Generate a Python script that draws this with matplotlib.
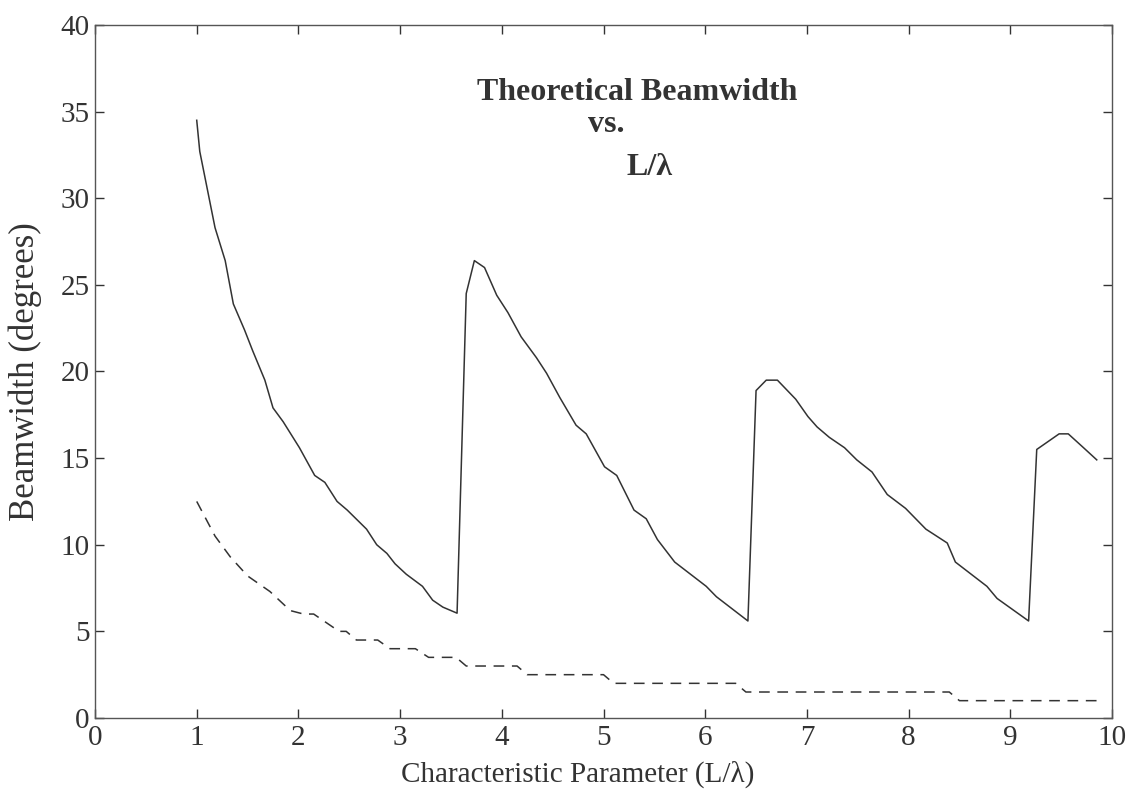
import matplotlib
matplotlib.use("Agg")
import matplotlib.pyplot as plt

# Theoretical beamwidth (solid) vs L/lambda
x_solid = [1.00, 1.03, 1.18, 1.28, 1.36, 1.47, 1.55, 1.67, 1.75, 1.85, 2.01,
           2.16, 2.26, 2.38, 2.48, 2.67, 2.77, 2.87, 2.95, 3.06, 3.22, 3.32,
           3.42, 3.56,
           3.65, 3.73, 3.83, 3.95, 4.06, 4.19, 4.34, 4.44, 4.57, 4.73, 4.83,
           5.01, 5.13, 5.30, 5.42, 5.53, 5.70, 6.01, 6.11, 6.42,
           6.50, 6.60, 6.71, 6.89, 7.01, 7.10, 7.22, 7.37, 7.49, 7.64, 7.79,
           7.97, 8.17, 8.38, 8.46, 8.77, 8.87, 9.18,
           9.26, 9.48, 9.57, 9.72, 9.85]
y_solid = [34.5, 32.7, 28.3, 26.4, 23.9, 22.4, 21.2, 19.5, 17.9, 17.1, 15.6,
           14.0, 13.6, 12.5, 12.0, 10.9, 10.0, 9.5, 8.9, 8.3, 7.6, 6.8,
           6.4, 6.05,
           24.5, 26.4, 26.0, 24.4, 23.4, 22.0, 20.8, 19.9, 18.5, 16.9, 16.4,
           14.5, 14.0, 12.0, 11.5, 10.3, 9.0, 7.6, 7.0, 5.6,
           18.9, 19.5, 19.5, 18.4, 17.4, 16.8, 16.2, 15.6, 14.9, 14.2, 12.9,
           12.1, 10.9, 10.1, 9.0, 7.6, 6.9, 5.6,
           15.5, 16.4, 16.4, 15.6, 14.9]

# second (dashed) curve
x_dash = [1.00, 1.18, 1.33, 1.50, 1.72, 1.92, 2.05, 2.15, 2.40, 2.47, 2.57,
          2.78, 2.90, 3.15, 3.28, 3.55, 3.65, 4.15, 4.25, 5.00, 5.10, 6.30,
          6.40, 8.40, 8.50, 9.85]
y_dash = [12.5, 10.5, 9.3, 8.2, 7.3, 6.2, 6.0, 6.0, 5.0, 5.0, 4.5,
          4.5, 4.0, 4.0, 3.5, 3.5, 3.0, 3.0, 2.5, 2.5, 2.0, 2.0,
          1.5, 1.5, 1.0, 1.0]

xticks = list(range(0, 11))
yticks = list(range(0, 41, 5))

plt.rcParams['font.family'] = ['Liberation Serif', 'DejaVu Serif']

fig = plt.figure(figsize = (11.34, 7.96), dpi = 100)
ax = fig.add_axes([0.0838, 0.098, 0.8968, 0.8706])

ink = '#333333'
ax.plot(x_solid, y_solid, color = ink, lw = 1.1)
ax.plot(x_dash, y_dash, color = ink, lw = 1.1, dashes = (7, 5))

ax.set_xlim(0, 10)
ax.set_ylim(0, 40)
ax.set_xticks(xticks)
ax.set_yticks(yticks)
ax.tick_params(direction = 'in', length = 6.5, width = 1.0, colors = ink,
               top = True, right = True, labelsize = 21, pad = 4)
ax.tick_params(axis = 'x', pad = 5)
for sp in ax.spines.values():
    sp.set_color('#555555')
    sp.set_linewidth(1.0)

ax.set_xlabel('Characteristic Parameter (L/\u03bb)', fontsize = 21, color = ink)
ax.xaxis.set_label_coords(0.475, -0.061)
ax.set_ylabel('Beamwidth (degrees)', fontsize = 25, color = ink)
ax.yaxis.set_label_coords(-0.052, 0.5)

# title block inside the axes
ax.text(0.533, 0.892, 'Theoretical Beamwidth', transform = ax.transAxes,
        ha = 'center', va = 'baseline', fontsize = 23, fontweight = 'bold', color = ink)
ax.text(0.503, 0.846, 'vs.', transform = ax.transAxes,
        ha = 'center', va = 'baseline', fontsize = 23, fontweight = 'bold', color = ink)
ax.text(0.545, 0.784, 'L/\u03bb', transform = ax.transAxes,
        ha = 'center', va = 'baseline', fontsize = 23, fontweight = 'bold', color = ink)

fig.savefig('out.png', dpi = 100)
